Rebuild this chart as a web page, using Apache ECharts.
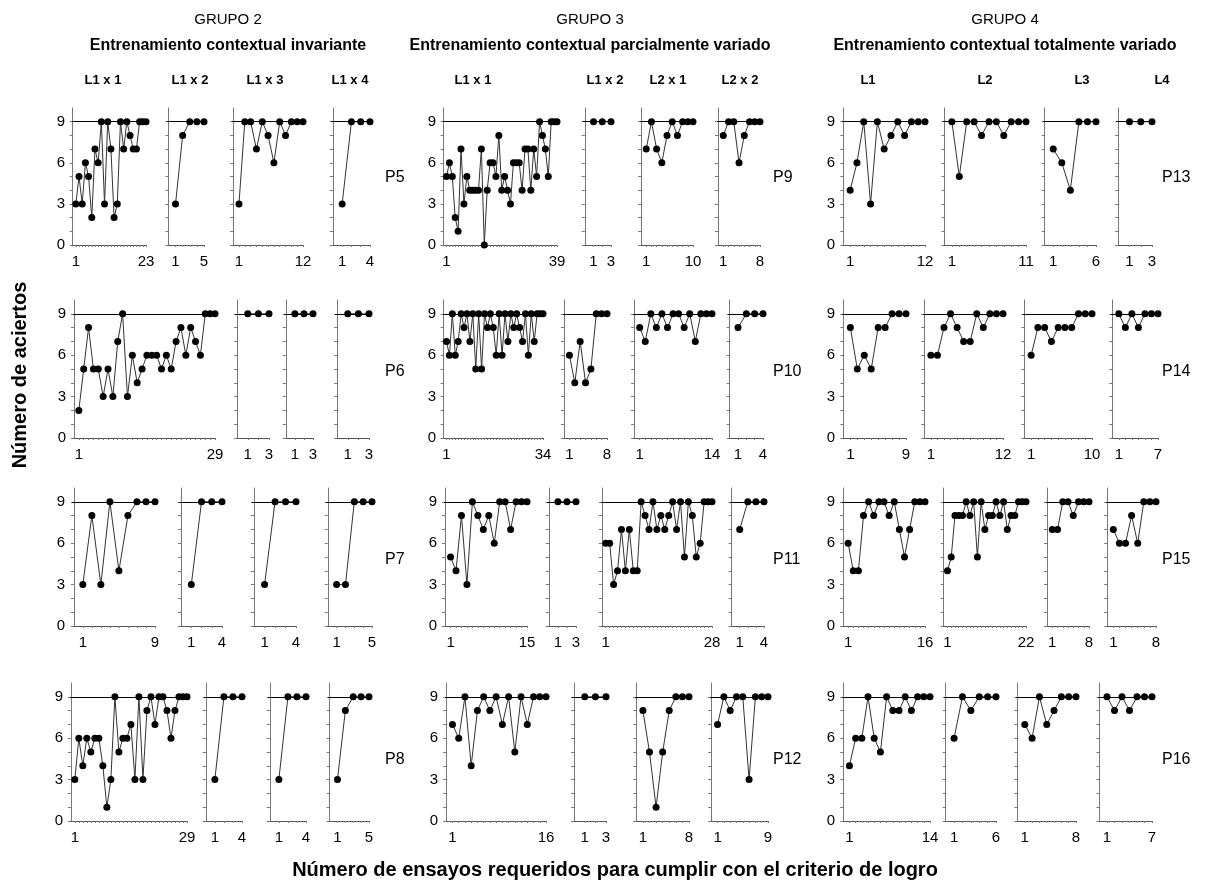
<!DOCTYPE html>
<html>
<head>
<meta charset="utf-8">
<script src="https://cdn.jsdelivr.net/npm/echarts@6/dist/echarts.min.js"></script>
<style>
html, body { margin: 0; padding: 0; background: #fff; }
#chart { width: 1230px; height: 890px; }
</style>
</head>
<body>
<div id="chart"></div>
<script>
var groupNames = ['GRUPO 2', 'GRUPO 3', 'GRUPO 4'];
var groupSubtitles = ['Entrenamiento contextual invariante',
    'Entrenamiento contextual parcialmente variado',
    'Entrenamiento contextual totalmente variado'];
var panelNames = [['L1 x 1', 'L1 x 2', 'L1 x 3', 'L1 x 4'],
    ['L1 x 1', 'L1 x 2', 'L2 x 1', 'L2 x 2'],
    ['L1', 'L2', 'L3', 'L4']];
var participants = [['P5', 'P9', 'P13'], ['P6', 'P10', 'P14'], ['P7', 'P11', 'P15'], ['P8', 'P12', 'P16']];
var yTickLabels = [0, 3, 6, 9];
var criterion = 9;

// aciertos por ensayo, one array per phase
var P5 = [[3,5,3,6,5,2,7,6,9,3,9,7,2,3,9,7,9,8,7,7,9,9,9], [3,8,9,9,9], [3,9,9,7,9,8,6,9,8,9,9,9], [3,9,9,9]];
var P9 = [[5,6,5,2,1,7,3,5,4,4,4,4,7,0,4,6,6,5,8,4,5,4,3,6,6,6,4,7,7,4,7,5,9,8,7,5,9,9,9], [9,9,9], [7,9,7,6,8,9,8,9,9,9], [8,9,9,6,8,9,9,9]];
var P13 = [[4,6,9,3,9,7,8,9,8,9,9,9], [9,5,9,9,8,9,9,8,9,9,9], [7,6,4,9,9,9], [9,9,9]];

var P6 = [[2,5,8,5,5,3,5,3,7,9,3,6,4,5,6,6,6,5,6,5,7,8,6,8,7,6,9,9,9], [9,9,9], [9,9,9], [9,9,9]];
var P10 = [[7,6,9,6,7,9,8,9,7,9,5,9,5,9,8,9,8,6,9,6,9,7,9,8,9,8,7,9,6,9,7,9,9,9], [6,4,7,4,5,9,9,9], [8,7,9,8,9,8,9,9,8,9,7,9,9,9], [8,9,9,9]];
var P14 = [[8,5,6,5,8,8,9,9,9], [6,6,8,9,8,7,7,9,8,9,9,9], [6,8,8,7,8,8,8,9,9,9], [9,8,9,8,9,9,9]];

var P7 = [[3,8,3,9,4,8,9,9,9], [3,9,9,9], [3,9,9,9], [3,3,9,9,9]];
var P11 = [[5,4,8,3,9,8,7,8,6,9,9,7,9,9,9], [9,9,9], [6,6,3,4,7,4,7,4,4,9,8,7,9,7,8,7,8,9,7,9,5,9,8,5,6,9,9,9], [7,9,9,9]];
var P15 = [[6,4,4,8,9,8,9,9,8,9,7,5,7,9,9,9], [4,5,8,8,8,9,8,9,5,9,7,8,8,9,8,9,7,8,8,9,9,9], [7,7,9,9,8,9,9,9], [7,6,6,8,6,9,9,9]];

var P8 = [[3,6,4,6,5,6,6,4,1,3,9,5,6,6,7,3,9,3,8,9,7,9,9,8,6,8,9,9,9], [3,9,9,9], [3,9,9,9], [3,8,9,9,9]];
var P12 = [[7,6,9,4,8,9,8,9,7,9,5,9,7,9,9,9], [9,9,9], [8,5,1,5,8,9,9,9], [7,9,8,9,9,3,9,9,9]];
var P16 = [[4,6,6,9,6,5,9,8,8,9,8,9,9,9], [6,9,8,9,9,9], [7,6,9,7,8,9,9,9], [9,8,9,8,9,9,9]];

var rows = [[P5, P9, P13], [P6, P10, P14], [P7, P11, P15], [P8, P12, P16]];

// layout: pixel rows (value 10 / value 0) and panel x extents (axis / last trial)
var rowY = [[108, 245], [300, 438], [488, 626], [683, 821]];
var panelX = [
    [[72,146],[167,204],[232,303],[331,370], [443,557],[583,611],[640,693],[717,760], [842,925],[943,1026],[1043,1096],[1116,1152]],
    [[73,215],[235,269],[284,313],[335,369], [443,543],[563,607],[633,712],[728,763], [842,906],[923,1003],[1023,1092],[1111,1158]],
    [[72,155],[179,222],[252,296],[326,372], [444,527],[547,576],[601,712],[730,764], [842,925],[943,1026],[1046,1089],[1106,1156]],
    [[70,187],[204,242],[268,306],[328,369], [445,546],[572,606],[635,689],[710,768], [842,930],[944,996],[1016,1076],[1098,1152]]
];
var headerX = [[103,190,265,350], [473,605,668,740], [868,985,1082,1162]];
var groupX = [228, 590, 1005];
var pLabelX = [385, 773, 1162];
var pLabelY = [178, 372, 560, 760];

function range(a, b) {
    var out = [];
    for (var i = a; i <= b; i++) out.push(i);
    return out;
}

var grids = [], xAxes = [], yAxes = [], series = [];
var idx = 0;
for (var r = 0; r < rows.length; r++) {
    for (var g = 0; g < 3; g++) {
        for (var k = 0; k < 4; k++) {
            var vals = rows[r][g][k];
            var n = vals.length;
            var px = panelX[r][g * 4 + k];
            grids.push({
                left: px[0], top: rowY[r][0],
                width: px[1] - px[0], height: rowY[r][1] - rowY[r][0]
            });
            xAxes.push({
                type: 'value', gridIndex: idx, min: -0.2, max: n,
                axisLine: { show: true, onZero: false, lineStyle: { color: '#555', width: 1 } },
                axisTick: { show: true, customValues: range(1, n), length: 2, lineStyle: { color: '#777' } },
                axisLabel: { show: true, customValues: [1, n], color: '#000', fontSize: 15,
                    fontFamily: 'Liberation Sans', margin: 9 },
                splitLine: { show: false }
            });
            yAxes.push({
                type: 'value', gridIndex: idx, min: 0, max: 10,
                axisLine: { show: true, lineStyle: { color: '#777', width: 1 } },
                axisTick: { show: true, customValues: range(0, 9), length: 3, lineStyle: { color: '#777' } },
                axisLabel: { show: k === 0, customValues: yTickLabels, color: '#000', fontSize: 15,
                    fontFamily: 'Liberation Sans', margin: 7 },
                splitLine: { show: false }
            });
            series.push({
                type: 'line', xAxisIndex: idx, yAxisIndex: idx, clip: false,
                data: vals.map(function (v, i) { return [i + 1, v]; }),
                symbol: 'circle', symbolSize: 7,
                itemStyle: { color: '#000' },
                lineStyle: { color: '#333', width: 1 },
                markLine: {
                    silent: true, symbol: ['none', 'none'], animation: false,
                    label: { show: false },
                    lineStyle: { color: '#000', width: 1, type: 'solid' },
                    data: [{ yAxis: criterion }]
                }
            });
            idx++;
        }
    }
}

var graphics = [];
var font = 'Liberation Sans';
for (var g = 0; g < 3; g++) {
    graphics.push({ type: 'text', x: groupX[g], y: 20,
        style: { text: groupNames[g], font: '15px ' + font, fill: '#000', textAlign: 'center', textVerticalAlign: 'middle' } });
    graphics.push({ type: 'text', x: groupX[g], y: 46,
        style: { text: groupSubtitles[g], font: 'bold 16px ' + font, fill: '#000', textAlign: 'center', textVerticalAlign: 'middle' } });
    for (var k = 0; k < 4; k++) {
        graphics.push({ type: 'text', x: headerX[g][k], y: 80,
            style: { text: panelNames[g][k], font: 'bold 13px ' + font, fill: '#000', textAlign: 'center', textVerticalAlign: 'middle' } });
    }
    for (var r = 0; r < 4; r++) {
        graphics.push({ type: 'text', x: pLabelX[g], y: pLabelY[r],
            style: { text: participants[r][g], font: '16px ' + font, fill: '#000', textAlign: 'left', textVerticalAlign: 'middle' } });
    }
}
graphics.push({ type: 'text', x: 20, y: 375, rotation: Math.PI / 2,
    style: { text: 'Número de aciertos', font: 'bold 20px ' + font, fill: '#000', textAlign: 'center', textVerticalAlign: 'middle' } });
graphics.push({ type: 'text', x: 615, y: 870,
    style: { text: 'Número de ensayos requeridos para cumplir con el criterio de logro', font: 'bold 20px ' + font, fill: '#000', textAlign: 'center', textVerticalAlign: 'middle' } });

var option = {
    backgroundColor: '#fff',
    animation: false,
    grid: grids,
    xAxis: xAxes,
    yAxis: yAxes,
    series: series,
    graphic: graphics
};

var chart = echarts.init(document.getElementById('chart'));
chart.setOption(option);
</script>
</body>
</html>
